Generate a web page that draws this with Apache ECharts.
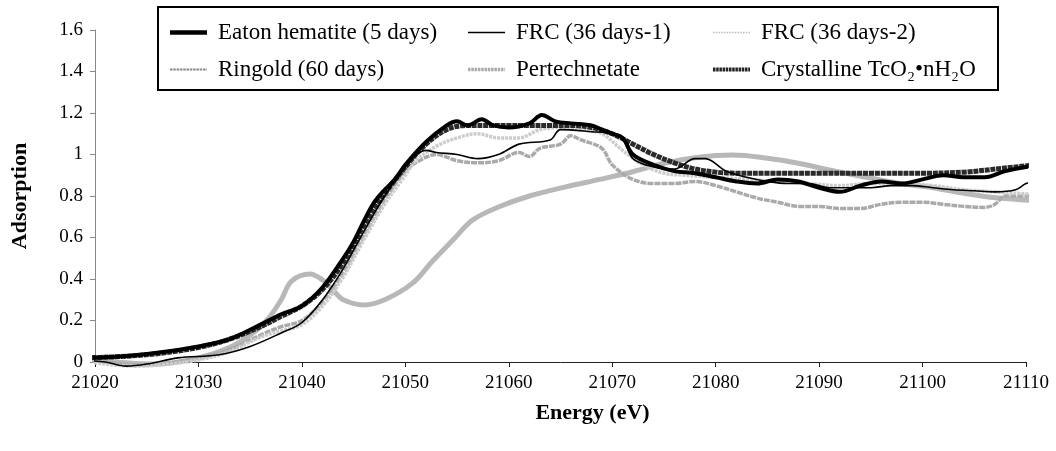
<!DOCTYPE html>
<html>
<head>
<meta charset="utf-8">
<script src="https://cdn.jsdelivr.net/npm/echarts@6/dist/echarts.min.js"></script>
<style>html,body{margin:0;padding:0;background:#fff}#c{width:1056px;height:451px}</style>
</head>
<body>
<div id="c"></div>
<script>
// ---- data (energy eV, adsorption) ----
var xTicks = [21020, 21030, 21040, 21050, 21060, 21070, 21080, 21090, 21100, 21110];
var yTicks = [0, 0.2, 0.4, 0.6, 0.8, 1, 1.2, 1.4, 1.6];

var eatonE = [21018,21022,21026,21030,21033,21036,21038,21040,21042,21044,21045,21046,21047,21048,21049,21050,21052,21054,21055,21056,21057.4,21058.5,21060,21062,21063.2,21064.5,21066,21068,21069,21070,21071,21072,21074,21076,21078,21080,21082,21084,21086,21088,21090,21092,21094,21096,21098,21100,21102,21104,21106,21108,21110,21112];
var eatonY = [0.02,0.025,0.045,0.075,0.11,0.18,0.23,0.27,0.36,0.50,0.58,0.68,0.77,0.83,0.88,0.95,1.06,1.14,1.16,1.14,1.17,1.14,1.13,1.15,1.19,1.16,1.15,1.14,1.12,1.10,1.08,1.00,0.95,0.92,0.91,0.89,0.87,0.86,0.88,0.87,0.84,0.82,0.85,0.87,0.86,0.88,0.90,0.89,0.89,0.92,0.94,0.95];

var frc1E = [21018,21021,21023,21025,21028,21032,21035,21038,21040,21042,21044,21046,21048,21050,21052,21053,21055,21057,21059,21061,21064,21065,21068,21070,21071,21072,21074,21076,21078,21079,21081,21083,21085,21087,21089,21091,21093,21095,21097,21099,21101,21103,21105,21107,21109,21110,21112];
var frc1Y = [0.01,0.0,-0.02,-0.01,0.02,0.035,0.075,0.14,0.19,0.30,0.45,0.63,0.80,0.94,1.02,1.01,1.00,0.98,1.00,1.05,1.07,1.12,1.11,1.10,1.08,0.98,0.94,0.93,0.98,0.98,0.92,0.89,0.87,0.86,0.86,0.84,0.84,0.84,0.85,0.85,0.84,0.83,0.825,0.82,0.83,0.86,0.89];

var frc2E = [21018,21021,21024,21027,21030,21033,21036,21038,21040,21042,21044,21046,21048,21050,21051,21053,21055,21057,21059,21061,21063,21065,21067,21069,21071,21073,21075,21077,21080,21083,21086,21089,21092,21095,21098,21101,21104,21107,21110,21112];
var frc2Y = [0.01,-0.01,-0.02,-0.01,0.01,0.05,0.12,0.15,0.18,0.27,0.41,0.59,0.76,0.90,0.97,1.04,1.08,1.10,1.08,1.08,1.12,1.13,1.12,1.10,1.02,0.95,0.91,0.90,0.89,0.88,0.87,0.86,0.85,0.86,0.86,0.85,0.83,0.82,0.81,0.80];

var ringoldE = [21018,21021,21024,21027,21030,21033,21036,21038,21040,21042,21044,21046,21048,21050,21051,21053,21055,21057,21059,21061,21062,21063,21065,21066,21067,21069,21070,21072,21074,21076,21078,21080,21082,21084,21086,21088,21090,21092,21094,21096,21098,21100,21102,21104,21106,21107,21108,21110,21112];
var ringoldY = [0.015,0.0,-0.015,-0.005,0.02,0.06,0.13,0.17,0.20,0.29,0.43,0.61,0.78,0.92,0.96,1.00,0.97,0.96,0.97,1.01,0.99,1.03,1.05,1.09,1.07,1.03,0.95,0.88,0.86,0.86,0.87,0.85,0.82,0.79,0.77,0.75,0.75,0.74,0.74,0.76,0.77,0.77,0.76,0.75,0.745,0.76,0.80,0.80,0.795];

var pertE = [21018,21022,21026,21030,21033,21035,21036.6,21038,21039,21040.8,21042,21043,21044,21046,21048,21050.7,21052.7,21054.6,21056.5,21059,21062,21065.6,21068.8,21072,21075,21078.5,21081.6,21085,21088,21091,21094.6,21097.8,21101,21104,21107.4,21112];
var pertY = [0.02,0.0,-0.01,0.02,0.07,0.13,0.20,0.30,0.39,0.424,0.395,0.347,0.30,0.275,0.30,0.38,0.49,0.588,0.684,0.747,0.80,0.845,0.88,0.917,0.958,0.988,0.997,0.982,0.958,0.925,0.89,0.86,0.84,0.813,0.79,0.775];

var crystE = [21018,21022,21026,21030,21033,21036,21038,21040,21042,21044,21046,21048,21050,21052,21054,21056,21058,21060,21062,21064,21066,21068,21070,21072,21074,21076,21078,21080,21082,21085,21090,21095,21100,21104,21108,21112];
var crystY = [0.02,0.025,0.04,0.07,0.11,0.17,0.22,0.27,0.35,0.48,0.66,0.81,0.94,1.05,1.12,1.14,1.14,1.14,1.14,1.14,1.14,1.13,1.10,1.05,1.00,0.96,0.93,0.915,0.91,0.91,0.91,0.91,0.91,0.915,0.935,0.955];

var names = ['Eaton hematite (5 days)', 'FRC (36 days-1)', 'FRC (36 days-2)', 'Ringold (60 days)', 'Pertechnetate', 'Crystalline TcO\u2082\u2022nH\u2082O'];

function pairs(xs, ys) { return xs.map(function (x, i) { return [x, ys[i]]; }); }

// legend icon paths (style only): solid bar or dashed bar of given thickness, 37 wide
function barIcon(h) { return 'path://M0,0H37V' + h + 'H0Z'; }
function dashIcon(h, dash, gap) {
  var p = '', x = 0;
  while (x < 37) { var w = Math.min(dash, 37 - x); p += 'M' + x + ',0h' + w + 'v' + h + 'h-' + w + 'Z'; x += dash + gap; }
  return 'path://' + p;
}

var FONT = '"Liberation Serif","Times New Roman",serif';
var chart = echarts.init(document.getElementById('c'), null, {renderer: 'canvas'});

function line(name, xs, ys, color, width, type, z) {
  return {
    name: name, type: 'line', data: pairs(xs, ys), showSymbol: false, symbol: 'none',
    smooth: 0.35, clip: false, z: z,
    lineStyle: {color: color, width: width, type: type || 'solid'},
    itemStyle: {color: color}
  };
}

function legendCol(left, items) {
  return {
    orient: 'vertical', left: left, top: 21, itemGap: 14, itemWidth: 37, itemHeight: 12,
    z: 10, data: items, selectedMode: false, padding: 0,
    textStyle: {fontFamily: FONT, fontSize: 23, color: '#000', padding: [0, 0, 0, 6]}
  };
}

chart.setOption({
  backgroundColor: '#fff',
  animation: false,
  grid: {left: 95, right: 30, top: 30, bottom: 89},
  graphic: [{
    type: 'rect', z: 5, shape: {x: 158, y: 7, width: 840, height: 83},
    style: {fill: '#fff', stroke: '#000', lineWidth: 2}
  }],
  legend: [
    legendCol(170, [
      {name: names[0], icon: barIcon(4.5), itemStyle: {color: '#000'}},
      {name: names[3], icon: dashIcon(2, 2.5, 0.8), itemStyle: {color: '#888'}}
    ]),
    legendCol(468, [
      {name: names[1], icon: barIcon(1.6), itemStyle: {color: '#000'}},
      {name: names[4], icon: dashIcon(3.5, 2.5, 0.8), itemStyle: {color: '#aaa'}}
    ]),
    legendCol(713, [
      {name: names[2], icon: dashIcon(1.5, 1.5, 1.2), itemStyle: {color: '#bbb'}},
      {name: names[5], icon: dashIcon(4, 2.5, 0.7), itemStyle: {color: '#222'}}
    ])
  ],
  xAxis: {
    type: 'value', min: xTicks[0], max: xTicks[xTicks.length - 1], interval: 10,
    name: 'Energy (eV)', nameLocation: 'middle', nameGap: 40,
    nameTextStyle: {fontFamily: FONT, fontSize: 22, fontWeight: 'bold', color: '#000', padding: [0, 0, 0, 64]},
    axisLine: {show: true, lineStyle: {color: '#222', width: 1}},
    axisTick: {show: true, length: 5, lineStyle: {color: '#222'}},
    axisLabel: {fontFamily: FONT, fontSize: 19, color: '#000', margin: 12,
      formatter: function (v) { return String(v); }},
    splitLine: {show: false}
  },
  yAxis: {
    type: 'value', min: yTicks[0], max: yTicks[yTicks.length - 1], interval: 0.2,
    name: 'Adsorption', nameLocation: 'middle', nameGap: 64,
    nameTextStyle: {fontFamily: FONT, fontSize: 22, fontWeight: 'bold', color: '#000'},
    axisLine: {show: true, lineStyle: {color: '#888', width: 1}},
    axisTick: {show: true, length: 5, lineStyle: {color: '#888'}},
    axisLabel: {fontFamily: FONT, fontSize: 19, color: '#000', margin: 12},
    splitLine: {show: false}
  },
  series: [
    line(names[4], pertE, pertY, '#b8b8b8', 5, 'solid', 2),
    line(names[3], ringoldE, ringoldY, '#aaaaaa', 3.5, [6, 1], 3),
    line(names[2], frc2E, frc2Y, '#cccccc', 3.5, [3, 1], 3),
    line(names[5], crystE, crystY, '#2a2a2a', 5, [5, 0.8], 4),
    line(names[0], eatonE, eatonY, '#000', 4, 'solid', 5),
    line(names[1], frc1E, frc1Y, '#000', 1.6, 'solid', 6)
  ]
});
</script>
</body>
</html>
